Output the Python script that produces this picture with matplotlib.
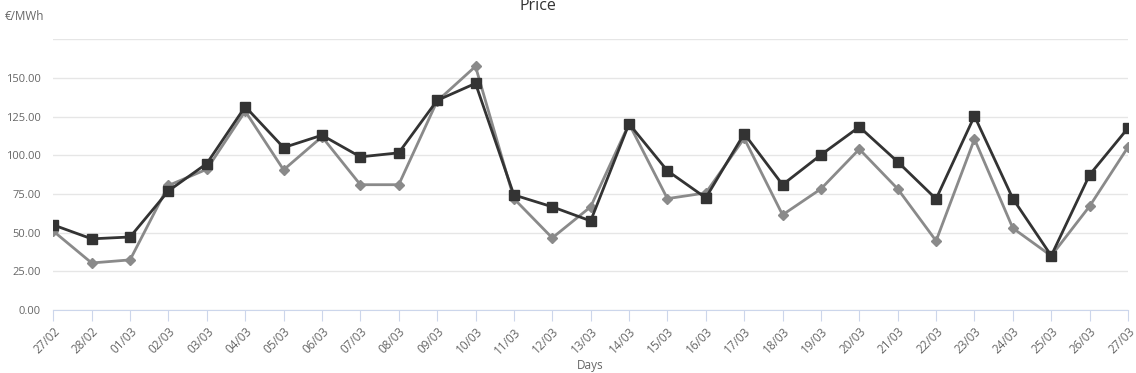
import matplotlib
matplotlib.use("Agg")
import matplotlib.pyplot as plt

days = ["27/02", "28/02", "01/03", "02/03", "03/03", "04/03", "05/03", "06/03",
        "07/03", "08/03", "09/03", "10/03", "11/03", "12/03", "13/03", "14/03",
        "15/03", "16/03", "17/03", "18/03", "19/03", "20/03", "21/03", "22/03",
        "23/03", "24/03", "25/03", "26/03", "27/03"]

# dark series (square markers)
price_dark = [55.0, 46.0, 47.2, 77.0, 94.7, 131.5, 105.0, 113.0, 99.0, 101.6,
              135.5, 146.5, 74.4, 66.7, 57.6, 120.4, 90.0, 72.5, 114.0, 81.0,
              100.3, 118.4, 95.8, 71.8, 125.4, 72.0, 35.1, 87.4, 117.6]

# grey series (diamond markers)
price_grey = [51.0, 30.4, 32.4, 80.5, 91.0, 128.5, 90.6, 112.0, 81.0, 81.0,
              135.0, 157.5, 72.0, 46.6, 66.7, 120.4, 72.0, 75.7, 111.0, 61.5,
              78.3, 104.0, 78.3, 44.7, 110.5, 52.9, 35.0, 67.1, 105.3]

yticks = [0, 25, 50, 75, 100, 125, 150]

plt.rcParams['font.family'] = ['Open Sans', 'DejaVu Sans']

fig = plt.figure(figsize=(11.36, 3.73), dpi=100)
ax = fig.add_axes([53.3 / 1136, 1 - 310 / 373, (1128 - 53.3) / 1136, (310 - 39.3) / 373])

x = list(range(len(days)))
ax.plot(x, price_grey, color='#8a8a8a', lw=2, marker='D', ms=5, zorder=3)
ax.plot(x, price_dark, color='#333333', lw=2, marker='s', ms=7.5, zorder=4)

ax.set_xlim(0, len(days) - 1)
ax.set_ylim(0, 175)
ax.set_yticks(yticks + [175])
ax.set_yticklabels(["%.2f" % v for v in yticks] + [""])
ax.yaxis.grid(True, color='#e6e6e6', lw=1)
ax.set_axisbelow(True)
ax.tick_params(axis='y', length=0, pad=9, labelsize=8, labelcolor='#666666')

ax.set_xticks(x)
ax.set_xticklabels(days, rotation=45, ha='right', va='top', rotation_mode='anchor')
ax.tick_params(axis='x', length=8, color='#ccd6eb', labelsize=8.5, labelcolor='#666666', pad=3)

for s in ['top', 'right', 'left']:
    ax.spines[s].set_visible(False)
ax.spines['bottom'].set_color('#ccd6eb')

fig.text(538 / 1136, 1 - 6 / 373, "Price", ha='center', va='center', fontsize=11.5, color='#333333')
fig.text(5 / 1136, 1 - 16 / 373, "€/MWh", ha='left', va='center', fontsize=8.5, color='#666666')
fig.text(590 / 1136, 1 - 365 / 373, "Days", ha='center', va='center', fontsize=8.5, color='#666666')

fig.savefig("out.png", dpi=100)
